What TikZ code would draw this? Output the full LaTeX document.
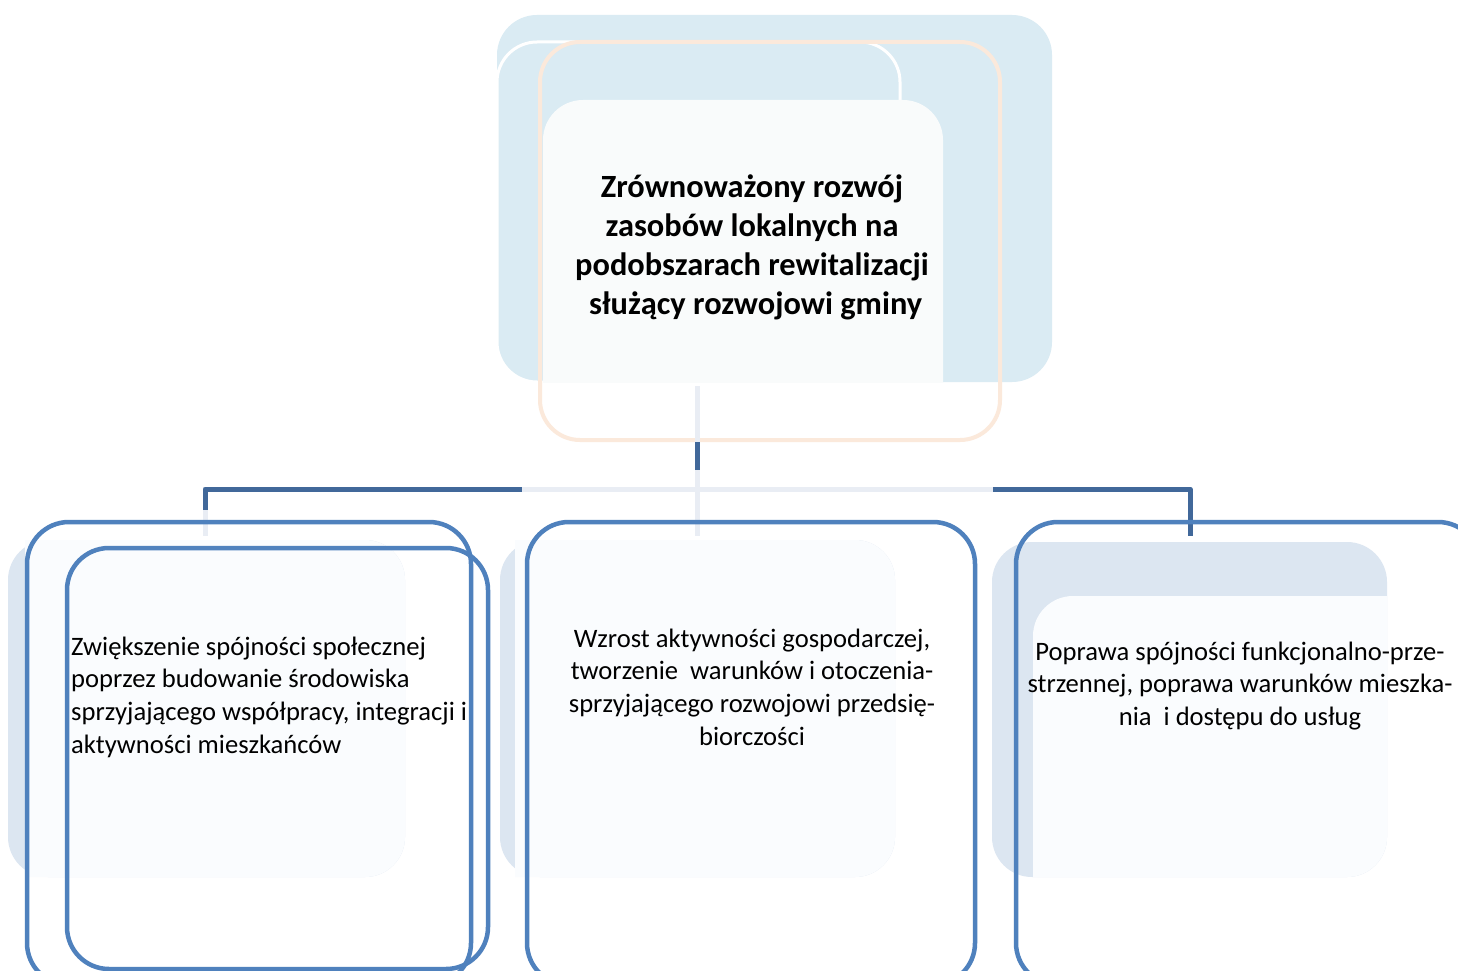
\documentclass[tikz,border=0pt]{standalone}
\usepackage{fontspec}
\setmainfont{Carlito}
\definecolor{topblue}{HTML}{DAEBF3}
\definecolor{topwhite}{HTML}{F9FBFB}
\definecolor{peach}{HTML}{FBE9DB}
\definecolor{bgblue}{HTML}{DCE6F1}
\definecolor{bgwhite}{HTML}{FAFCFE}
\definecolor{boxblue}{HTML}{4F81BD}
\definecolor{conndark}{HTML}{41689A}
\definecolor{connlight}{HTML}{E9EDF4}
\tikzset{
  bluebox/.style={draw=boxblue, line width=4.5pt, rounded corners=42pt, inner sep=0pt, outer sep=0pt},
  peachbox/.style={draw=peach, line width=4pt, rounded corners=40pt, inner sep=0pt, outer sep=0pt},
  darkline/.style={draw=conndark, line width=5pt},
  lightline/.style={draw=connlight, line width=5pt},
  bodytext/.style={font=\fontsize{26.6pt}{32.6pt}\selectfont, inner sep=0pt, text=black},
  titletext/.style={font=\bfseries\fontsize{32.4pt}{39pt}\selectfont, align=center, inner sep=0pt, text=black}
}
\begin{document}
\begin{tikzpicture}[x=1pt,y=-1pt]
\useasboundingbox (0,0) rectangle (1458,971);
\clip (0,0) rectangle (1458,971);
\fill[white] (0,0) rectangle (1458,971);

% ---- top group ----
\fill[topblue, rounded corners=40pt] (497,15) rectangle (1052,382);
\filldraw[fill=topblue, draw=white, line width=3pt, rounded corners=40pt] (497,42) rectangle (900,382);
\begin{scope}
  \clip (0,0) rectangle (1458,382);
  \fill[topwhite, rounded corners=40pt] (543,100) rectangle (943,440);
\end{scope}
\node[peachbox, minimum width=460pt, minimum height=398pt] (top) at (770,241) {};
\node[titletext] (toptext) at (752,247)
  {Zrównoważony rozwój\\zasobów lokalnych na\\podobszarach rewitalizacji\\\mbox{}\ służący rozwojowi gminy};

% ---- connectors ----
\coordinate (t0) at (697,386);
\coordinate (t1) at (697,442);
\coordinate (t2) at (697,470);
\coordinate (t3) at (697,536);
\coordinate (hl) at (205,489);
\coordinate (hla) at (522,489);
\coordinate (hrb) at (993,489);
\coordinate (hr) at (1190,489);
\coordinate (l1) at (205,510);
\coordinate (l2) at (205,536);
\coordinate (r2) at (1190,536);
\draw[lightline] (t0) -- (t1);
\draw[darkline] (t1) -- (t2);
\draw[lightline] (t2) -- (t3);
\draw[lightline] (hla) -- (hrb);
\draw[darkline, line join=round] (l1) -- (hl) -- (hla);
\draw[lightline] (l1) -- (l2);
\draw[darkline, line join=round] (hrb) -- (hr) -- (r2);

% ---- bottom backgrounds ----
\fill[bgblue, rounded corners=40pt] (8,540) rectangle (405,877);
\begin{scope}
  \clip (25,500) rectangle (460,900);
  \fill[bgwhite, rounded corners=40pt] (-60,540) rectangle (405,877);
\end{scope}
\fill[bgblue, rounded corners=40pt] (500,540) rectangle (895,877);
\begin{scope}
  \clip (515,500) rectangle (960,900);
  \fill[bgwhite, rounded corners=40pt] (420,540) rectangle (895,877);
\end{scope}
\fill[bgblue, rounded corners=40pt] (992,542) rectangle (1387,877);
\fill[bgwhite, rounded corners=40pt] (1033,596) rectangle (1387,877);
\fill[bgwhite] (1340,596) rectangle (1387,640);
\fill[bgwhite] (1033,830) rectangle (1080,877);

% ---- bottom boxes ----
\node[bluebox, minimum width=444pt, minimum height=463pt] (left) at (249,753.5) {};
\node[bluebox, minimum width=421pt, minimum height=421pt] (leftin) at (277.5,758.5) {};
\node[bluebox, minimum width=448pt, minimum height=463pt] (mid) at (751,753.5) {};
\node[bluebox, minimum width=464pt, minimum height=463pt] (right) at (1248,753.5) {};

% ---- texts ----
\node[bodytext, align=left, anchor=west] (lefttext) at (71,697)
  {Zwiększenie spójności społecznej\\poprzez budowanie środowiska\\sprzyjającego współpracy, integracji i\\aktywności mieszkańców};
\node[bodytext, align=center] (midtext) at (752,687)
  {Wzrost aktywności gospodarczej,\\tworzenie\ \ warunków i otoczenia-\\sprzyjającego rozwojowi przedsię-\\biorczości};
\node[bodytext, align=center] (righttext) at (1240,686)
  {Poprawa spójności funkcjonalno-prze-\\strzennej, poprawa warunków mieszka-\\nia\ \ i dostępu do usług};
\end{tikzpicture}
\end{document}
